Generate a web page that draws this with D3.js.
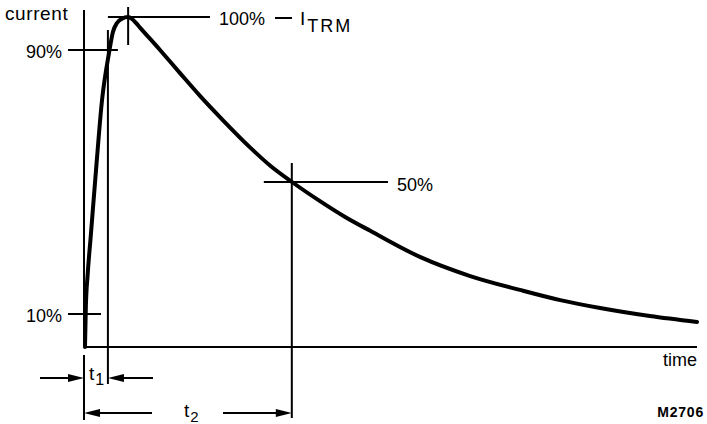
<!DOCTYPE html>
<html>
<head>
<meta charset="utf-8">
<script src="https://cdn.jsdelivr.net/npm/d3@7"></script>
<style>
  html, body { margin: 0; padding: 0; background: #fff; }
  svg { display: block; }
  text { font-family: "Liberation Sans", Arial, sans-serif; fill: #000; }
</style>
</head>
<body>
<div id="graph-container"></div>
<script>

    /////////////////////////////////////////////////////////////////////////////
                          ///////    Data    ///////
    /////////////////////////////////////////////////////////////////////////////

    // surge current pulse, time in arbitrary units (0..100), current in % of I_TRM
    var time_units  = [0.16, 0.3, 0.6, 1.09, 1.96, 2.94, 4.08, 4.73, 5.38, 6.2, 7.18, 7.83, 8.48, 9.14, 12.4, 15.66, 18.92, 22.68, 27.08, 30.34, 33.93, 38.5, 42.6, 46.7, 54.8, 63.0, 71.1, 77.7, 84.2, 92.3, 100];
    var current_pct = [0, 12, 22, 33.3, 53.6, 74.8, 89.1, 95.5, 98.2, 99.5, 100, 99.4, 98.2, 96.8, 90.0, 83.0, 76.1, 68.7, 60.5, 55.0, 50.0, 44.2, 39.4, 35.2, 27.3, 21.5, 17.3, 14.2, 11.8, 9.4, 7.6];

    var level_labels = ['10%', '90%'];
    var level_values = [10, 90];

    var t_peak = 7.2;
    var t1 = 3.9;
    var t2 = 33.9;

    /////////////////////////////////////////////////////////////////////////////
                          ///////    Set Up Chart    ///////
    /////////////////////////////////////////////////////////////////////////////

    var W = 707, H = 424;
    var x0 = 84, x1 = 697, y0 = 347, y1 = 17;

    var svg = d3.select('#graph-container').append('svg').attr('width', W).attr('height', H);
    svg.append('rect').attr('width', W).attr('height', H).attr('fill', '#fff');

    var x = d3.scaleLinear().domain([0, 100]).range([x0, x1]);
    var y = d3.scaleLinear().domain([0, 100]).range([y0, y1]);

    var g = svg.append('g').attr('stroke', '#000').attr('stroke-width', 2).attr('fill', 'none');

    function seg(xa, ya, xb, yb, sw) {
        g.append('line').attr('x1', xa).attr('y1', ya).attr('x2', xb).attr('y2', yb)
         .attr('stroke-width', sw || 2);
    }

    function arrow(xfrom, xto, yy) {
        // shaft plus filled head pointing at xto
        var dir = xto > xfrom ? 1 : -1;
        seg(xfrom, yy, xto - dir * 10, yy);
        svg.append('path')
           .attr('d', `M${xto},${yy} L${xto - dir * 16},${yy - 4} L${xto - dir * 16},${yy + 4} Z`)
           .attr('fill', '#000');
    }

    // axes
    seg(x(0), 10, x(0), y(0));
    seg(x(0), y(0), x(100), y(0));

    // markers at 10% / 90%
    level_values.forEach((v, i) => {
        seg(68, y(v), v === 90 ? x(t1) + 10 : x(0) + 17, y(v));
        svg.append('text').attr('x', 62).attr('y', y(v) + 8)
           .attr('text-anchor', 'end').style('font-size', '18px').text(level_labels[i]);
    });

    // t1 vertical
    seg(x(t1), 30, x(t1), 384);

    // peak: tick + 100% line
    seg(x(t_peak), 7, x(t_peak), 45);
    seg(x(t1), y(100), 210, y(100));
    seg(275, y(100) + 1, 292, y(100) + 1);

    // 50% point
    seg(x(t2), 163, x(t2), 418);
    seg(x(t2) - 28, y(50), 388, y(50));

    // t0 line below axis
    seg(x(0), 355, x(0), 420);

    // the pulse
    var line = d3.line().x((d, i) => x(time_units[i])).y(d => y(d)).curve(d3.curveMonotoneX);
    svg.append('path').datum(current_pct)
       .attr('d', line).attr('fill', 'none').attr('stroke', '#000')
       .attr('stroke-width', 4).attr('stroke-linejoin', 'round').attr('stroke-linecap', 'round');

    // dimension arrows
    arrow(40, x(0), 378);
    arrow(153, x(t1), 378);
    arrow(152, x(0), 413);
    arrow(223, x(t2), 413);

    /////////////////////////////////////////////////////////////////////////////
                          ///////    Labels    ///////
    /////////////////////////////////////////////////////////////////////////////

    svg.append('text').attr('x', 5).attr('y', 20).style('font-size', '19px')
       .style('letter-spacing', '0.6px').text('current');

    svg.append('text').attr('x', 219).attr('y', 25).style('font-size', '18px').text('100%');

    var itrm = svg.append('text').attr('x', 300).attr('y', 25).style('font-size', '19px');
    itrm.append('tspan').text('I');
    itrm.append('tspan').attr('dy', 7).attr('dx', 2).style('font-size', '18px')
        .style('letter-spacing', '2px').text('TRM');

    svg.append('text').attr('x', 397).attr('y', 191).style('font-size', '18px').text('50%');

    svg.append('text').attr('x', 697).attr('y', 366).attr('text-anchor', 'end')
       .style('font-size', '18px').text('time');

    svg.append('text').attr('x', 704).attr('y', 417).attr('text-anchor', 'end')
       .style('font-size', '14px').style('font-weight', 'bold').style('letter-spacing', '0.8px')
       .text('M2706');

    var t1_label = svg.append('text').attr('x', 89).attr('y', 380).style('font-size', '19px');
    t1_label.append('tspan').text('t');
    t1_label.append('tspan').attr('dy', 5).attr('dx', 1).style('font-size', '16px').text('1');

    var t2_label = svg.append('text').attr('x', 184).attr('y', 417).style('font-size', '19px');
    t2_label.append('tspan').text('t');
    t2_label.append('tspan').attr('dy', 5).attr('dx', 1).style('font-size', '15px').text('2');

</script>
</body>
</html>
